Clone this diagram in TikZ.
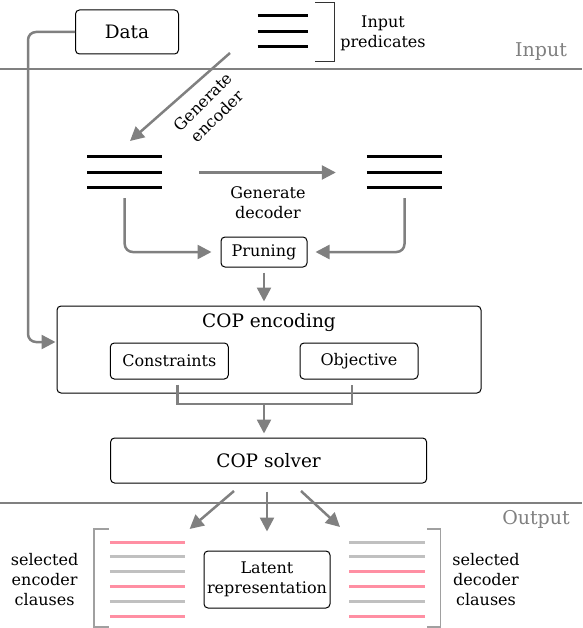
\documentclass[tikz,border=0pt]{standalone}
\usepackage{fontspec}
\setmainfont{DejaVu Serif}
\usepackage{tikz}
\usetikzlibrary{arrows.meta}
\usetikzlibrary{calc}

\definecolor{arrowgray}{HTML}{808080}
\definecolor{bracketgray}{HTML}{A0A0A0}
\definecolor{clausepink}{HTML}{FF8FA3}
\definecolor{clausegray}{HTML}{C0C0C0}

\begin{document}
\begin{tikzpicture}[x=1pt, y=-1pt,
	box/.style={draw, rounded corners=4pt, line width=1pt, inner sep=0pt, align=center, font=\fontsize{16}{20}\selectfont},
	bigbox/.style={box, font=\fontsize{18.5}{22}\selectfont},
	flow/.style={arrowgray, line width=2.5pt, -{Triangle[length=14pt,width=14pt]}},
	link/.style={draw=arrowgray, line width=2.5pt},
	pred/.style={line width=3pt},
	lbl/.style={align=center, inner sep=0pt, font=\fontsize{16}{20}\selectfont},
	part/.style={text=arrowgray, inner sep=0pt, font=\fontsize{19}{22}\selectfont}
]
\useasboundingbox (0,0) rectangle (582,628);

%input
\node[bigbox, minimum width=103, minimum height=44] (data) at (127,32) {Data};
\node[minimum width=50, minimum height=34, inner sep=0pt] (inp) at (282.7,31.5) {};
\node[lbl] (inptxt) at (383,33) {Input\\predicates};
\draw[line width=1pt, black!80] (315,3) -- (334,3) -- (334,62) -- (315,62);
\draw[arrowgray, line width=1.2pt] (0,69) -- (582,69);
\node[part] (inpart) at (541,52) {Input};

%encoder / decoder
\node[minimum width=75, minimum height=34, inner sep=0pt] (enc) at (124.7,172.5) {};
\node[minimum width=75, minimum height=34, inner sep=0pt] (dec) at (404.5,172.5) {};
\foreach \n in {inp,enc,dec}
	\foreach \d in {-15.5,0,15.5}
		\draw[pred] ($(\n.west)+(0,\d)$) -- ($(\n.east)+(0,\d)$);
\coordinate (gencfrom) at (230,53);
\coordinate (gencto) at (130,141);
\node[lbl, rotate=45] (genctxt) at (210,109) {Generate\\encoder};
\node[lbl] (gdectxt) at (268,203) {Generate\\decoder};
\node[box, minimum width=86, minimum height=30] (prune) at (264,252) {Pruning};

%cop
\node[box, minimum width=424, minimum height=87] (cope) at (269,349.5) {};
\node[lbl, font=\fontsize{18.5}{22}\selectfont] (copetxt) at (269,323) {COP encoding};
\node[box, minimum width=118, minimum height=36] (cons) at (169.3,361) {Constraints};
\node[box, minimum width=118, minimum height=36] (obj) at (359,361) {Objective};
\coordinate (join) at (264,404);
\node[bigbox, minimum width=316, minimum height=45] (solver) at (268.6,460.5) {COP solver};

%output
\draw[arrowgray, line width=1.2pt] (0,503) -- (582,503);
\node[part] (outpart) at (536,519) {Output};
\node[minimum width=75, minimum height=80, inner sep=0pt] (encl) at (147.5,579) {};
\node[minimum width=75, minimum height=80, inner sep=0pt] (decl) at (387,579) {};
\foreach \c [count=\i from 0] in {clausepink,clausegray,clausegray,clausepink,clausegray,clausepink}
	\draw[\c, line width=3pt] ($(encl.west)+(0,{(\i-2.5)*14.8})$) -- ($(encl.east)+(0,{(\i-2.5)*14.8})$);
\foreach \c [count=\i from 0] in {clausegray,clausegray,clausepink,clausepink,clausegray,clausepink}
	\draw[\c, line width=3pt] ($(decl.west)+(0,{(\i-2.5)*14.8})$) -- ($(decl.east)+(0,{(\i-2.5)*14.8})$);
\draw[bracketgray, line width=1.5pt] (109,529) -- (94,529) -- (94,627) -- (109,627);
\draw[bracketgray, line width=1.5pt] (426.8,529) -- (440.5,529) -- (440.5,627) -- (426.8,627);
\node[lbl] (enctxt) at (44.6,580) {selected\\encoder\\clauses};
\node[lbl] (dectxt) at (486,580) {selected\\decoder\\clauses};
\node[box, minimum width=126, minimum height=57] (latent) at (267,579.5) {Latent\\representation};
\coordinate (s1) at (234,491);
\coordinate (o1) at (189.6,529);
\coordinate (s3) at (301,491);
\coordinate (o3) at (340,527);

%connectors
\draw[flow, rounded corners=8pt, shorten >=1pt] (data.west) -| (28,342) -- (cope.west |- 0,342);
\path[flow]
(gencfrom) edge (gencto)
(latent.north |- solver.south) edge[shorten <=8pt, shorten >=19pt] (latent.north)
(s1) edge (o1)
(s3) edge (o3)
;
\draw[flow, shorten <=37pt, shorten >=31pt] (enc.east) -- (dec.west);
\draw[flow, rounded corners=8pt, shorten <=8.5pt, shorten >=9pt] (enc.south) |- (prune.west);
\draw[flow, rounded corners=8pt, shorten <=8.5pt, shorten >=8pt] (dec.south) |- (prune.east);
\draw[flow, shorten <=5pt, shorten >=4pt] (prune.south) -- (prune.south |- cope.north);
\draw[link] ($(cons.south)+(8,5)$) |- (join) -| ($(obj.south)+(-7,5)$);
\draw[flow, shorten >=4pt] (join) -- (join |- solver.north);
\end{tikzpicture}
\end{document}
